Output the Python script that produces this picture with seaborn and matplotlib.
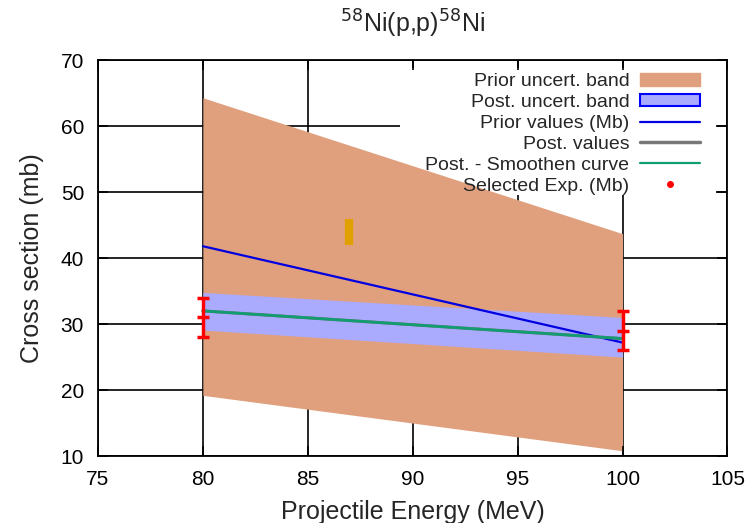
import matplotlib.pyplot as plt
import numpy as np
import seaborn as sns
import pandas as pd
from matplotlib.patches import Patch, Rectangle
from matplotlib.lines import Line2D

# values
energy = [80, 100]
prior_low = [19.2, 10.8]
prior_high = [64.3, 43.7]
post_low = [29.1, 25.0]
post_high = [34.8, 31.0]
prior_values = [41.8, 27.2]
post_values = [32.0, 27.8]
smooth_values = [32.0, 27.8]
exp_values = [31.0, 29.0]
exp_err = [3.0, 3.0]
marker_x = [86.95, 86.95]
marker_y = [42.0, 46.0]
xticks = [75, 80, 85, 90, 95, 100, 105]
yticks = [10, 20, 30, 40, 50, 60, 70]

df = pd.DataFrame({'E': energy, 'prior': prior_values, 'post': post_values,
                   'smooth': smooth_values, 'exp': exp_values})

sns.set_style('ticks')
plt.rcParams['font.family'] = ['Liberation Sans', 'DejaVu Sans']

fig = plt.figure(figsize=(7.45, 5.23), dpi=100)
ax = fig.add_axes([0.1315, 0.128, 0.845, 0.757])

c_prior = '#e0a07e'
c_post = '#aaaaff'

ax.fill_between(energy, prior_low, prior_high, color=c_prior, lw=0, zorder=2)
ax.fill_between(energy, post_low, post_high, color=c_post, lw=0, zorder=3)
sns.lineplot(data=df, x='E', y='prior', ax=ax, color='#0000e0', lw=1.6, zorder=4)
sns.lineplot(data=df, x='E', y='post', ax=ax, color='#777777', lw=2.2, zorder=4)
sns.lineplot(data=df, x='E', y='smooth', ax=ax, color='#129c72', lw=2.0, zorder=5)
ax.plot(marker_x, marker_y, color='#e0a000', lw=6, solid_capstyle='butt', zorder=4)
ax.errorbar(energy, exp_values, yerr=exp_err, fmt='_', color='#ff0000', ms=8, mew=2.5,
            elinewidth=2.5, capsize=4, capthick=2.5, zorder=6)

ax.set_xlim(75, 105)
ax.set_ylim(10, 70)
ax.set_xticks(xticks)
ax.set_yticks(yticks)
# grid behind everything, ticks on top
for xv in xticks:
    ax.axvline(xv, color='black', lw=1.2, zorder=1)
for yv in yticks:
    ax.axhline(yv, color='black', lw=1.2, zorder=1)
ax.xaxis.set_zorder(7)
ax.yaxis.set_zorder(7)
for s in ax.spines.values():
    s.set_color('black')
    s.set_linewidth(1.3)
    s.set_zorder(7)
ax.tick_params(direction='in', length=7, width=1.2, labelsize=15, colors='black',
               pad=10, top=True, right=True)

# key area hides the grid (gnuplot style), but sits under the bands
ax.add_patch(Rectangle((0.48, 0.66), 0.501, 0.32, transform=ax.transAxes,
                       facecolor='white', edgecolor='none', zorder=1.5))

ax.set_xlabel('Projectile Energy (MeV)', fontsize=18, labelpad=8)
ax.set_ylabel('Cross section (mb)', fontsize=18, labelpad=12)
ax.set_title(r'$^{58}$Ni(p,p)$^{58}$Ni', fontsize=18, pad=20)

handles = [Patch(facecolor=c_prior, edgecolor=c_prior),
           Patch(facecolor=c_post, edgecolor='#0000ff', lw=1.5),
           Line2D([], [], color='#0000e0', lw=1.6),
           Line2D([], [], color='#777777', lw=2.5),
           Line2D([], [], color='#129c72', lw=1.6),
           Line2D([], [], color='#ff0000', marker='o', ms=4, lw=0)]
labels = ['Prior uncert. band', 'Post. uncert. band', 'Prior values (Mb)',
          'Post. values', 'Post. - Smoothen curve', 'Selected Exp. (Mb)']
leg = ax.legend(handles, labels, loc='upper right', bbox_to_anchor=(0.957, 0.967),
                frameon=False, markerfirst=False, fontsize=14, borderpad=0,
                borderaxespad=0, labelspacing=0.2, handlelength=3.1,
                handleheight=0.6, handletextpad=0.55)
leg.set_zorder(8)

fig.savefig('out.png', dpi=100)
